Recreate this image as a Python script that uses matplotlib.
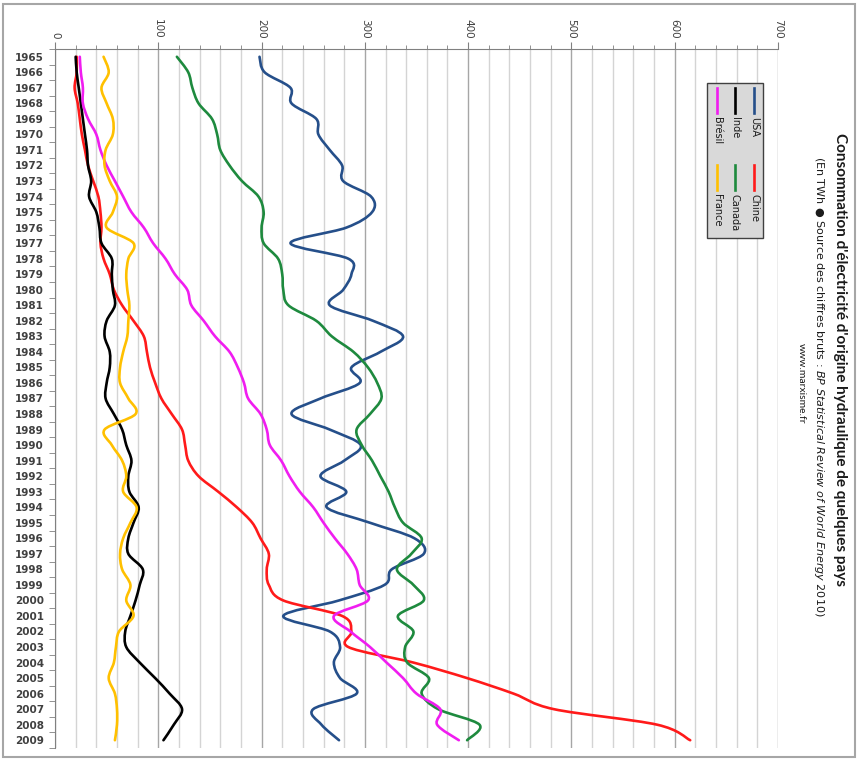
import matplotlib
matplotlib.use('Agg')
import matplotlib.pyplot as plt
from matplotlib.path import Path
from matplotlib.patches import PathPatch, Rectangle
from matplotlib.lines import Line2D
import numpy as np

# Données (TWh)
annees = list(range(1965, 2010))
usa = [198, 203, 228, 229, 253, 255, 266, 278, 279, 306,
       307, 282, 228, 284, 287, 279, 266, 308, 337, 315,
       287, 295, 257, 229, 266, 296, 280, 257, 282, 263,
       305, 348, 357, 326, 319, 275, 221, 266, 276, 270,
       276, 292, 250, 258, 275]
chine = [21, 21, 19, 22, 24, 26, 29, 32, 37, 42,
         44, 45, 44, 47, 53, 57, 65, 76, 86, 89,
         92, 97, 103, 113, 123, 126, 129, 139, 158, 176,
         191, 199, 207, 205, 207, 221, 278, 287, 284, 347,
         399, 444, 483, 583, 615]
canada = [118, 129, 133, 139, 152, 157, 160, 169, 181, 197,
          202, 200, 202, 216, 220, 221, 226, 253, 268, 289,
          303, 312, 316, 305, 292, 297, 307, 315, 323, 329,
          337, 355, 345, 331, 347, 357, 332, 347, 339, 341,
          362, 355, 371, 411, 399]
inde = [20, 21, 23, 25, 27, 29, 31, 32, 35, 33,
        40, 43, 45, 55, 55, 56, 58, 50, 48, 53,
        53, 50, 49, 57, 65, 69, 74, 71, 72, 81,
        76, 71, 71, 85, 82, 78, 73, 68, 69, 82,
        97, 111, 123, 115, 105]
bresil = [24, 25, 27, 27, 32, 40, 44, 50, 58, 66,
          74, 86, 95, 107, 116, 128, 132, 144, 155, 169,
          177, 183, 187, 199, 205, 208, 219, 227, 237, 250,
          260, 271, 283, 292, 295, 303, 270, 286, 305, 321,
          337, 350, 373, 370, 391]
france = [47, 52, 45, 50, 56, 56, 49, 48, 53, 60,
          56, 50, 76, 71, 69, 70, 72, 71, 70, 66,
          63, 63, 71, 78, 48, 55, 65, 69, 66, 79,
          73, 66, 63, 65, 73, 69, 76, 62, 59, 57,
          52, 58, 60, 60, 58]

pays = ['USA', 'Chine', 'Canada', 'Inde', 'Brésil', 'France']
series = [usa, chine, canada, inde, bresil, france]
couleurs = ['#254f8a', '#ff1a1a', '#1e8a3e', '#000000', '#f01df0', '#ffc000']

W, H = 861, 761


def fx(x):
    return x / W


def fy(y):
    return 1 - y / H


# courbe lissée façon Excel (bézier cubique)
def courbe_lissee(x, y):
    pts = np.column_stack([x, y]).astype(float)
    ext = np.vstack([pts[0], pts, pts[-1]])
    verts = [pts[0]]
    codes = [Path.MOVETO]
    for i in range(len(pts) - 1):
        p0, p1, p2, p3 = ext[i], ext[i + 1], ext[i + 2], ext[i + 3]
        verts += [p1 + (p2 - p0) / 6, p2 - (p3 - p1) / 6, p2]
        codes += [Path.CURVE4] * 3
    return Path(verts, codes)


fig = plt.figure(figsize=(W / 100, H / 100), dpi=100)
ax = fig.add_axes([fx(55), fy(748), fx(778) - fx(55), fy(49) - fy(748)])

for nom, valeurs, c in zip(pays, series, couleurs):
    ax.add_patch(PathPatch(courbe_lissee(valeurs, annees), facecolor='none',
                           edgecolor=c, lw=1.9, capstyle='round', joinstyle='round', zorder=3))

ax.set_xlim(0, 700)
ax.set_ylim(2009.5, 1964.5)

# axe des valeurs en haut
ax.xaxis.tick_top()
ax.set_xticks(range(0, 701, 100))
ax.set_xticks(range(0, 701, 20), minor=True)
ax.set_xticklabels([str(v) for v in range(0, 701, 100)], rotation=-90,
                   fontsize=7.5, color='#404040')
ax.tick_params(axis='x', which='major', length=5, color='#808080', pad=2.5)
ax.tick_params(axis='x', which='minor', length=3, color='#808080')
ax.grid(axis='x', which='major', color='#a6a6a6', lw=1)
ax.grid(axis='x', which='minor', color='#d4d4d4', lw=1)

# axe des années à gauche
ax.set_yticks(annees)
ax.set_yticklabels([str(a) for a in annees], fontsize=7.5, fontweight='bold', color='#404040')
ax.set_yticks(np.arange(1964.5, 2010, 1), minor=True)
ax.tick_params(axis='y', which='major', length=0, pad=8)
ax.tick_params(axis='y', which='minor', length=4, color='#808080')

for s in ['right', 'bottom']:
    ax.spines[s].set_visible(False)
for s in ['top', 'left']:
    ax.spines[s].set_color('#808080')

# titres
fig.text(fx(840), fy(133), "Consommation d'électricité d'origine hydraulique de quelques pays",
         rotation=-90, ha='center', va='top', fontsize=11, fontweight='bold',
         family='Lato', color='#1a1a1a')
fig.text(fx(819), fy(156),
         r"(En TWh ● Source des chiffres bruts : $\mathit{BP\ Statistical\ Review\ of\ World\ Energy\ 2010}$)",
         rotation=-90, ha='center', va='top', fontsize=8, color='#1a1a1a')
fig.text(fx(801), fy(343), "www.marxisme.fr", rotation=-90, ha='center', va='top',
         fontsize=7.5, family='Lato', color='#1a1a1a')

# légende
fig.add_artist(Rectangle((fx(707), fy(238)), fx(763) - fx(707), fy(83) - fy(238),
                         transform=fig.transFigure, facecolor='#d9d9d9',
                         edgecolor='#404040', lw=1))
leg_x = {'USA': 754, 'Chine': 754, 'Inde': 735, 'Canada': 735, 'Brésil': 717, 'France': 717}
leg_y = {'USA': 88, 'Chine': 165, 'Inde': 88, 'Canada': 165, 'Brésil': 88, 'France': 165}
for nom, c in zip(pays, couleurs):
    x, y = leg_x[nom], leg_y[nom]
    fig.add_artist(Line2D([fx(x), fx(x)], [fy(y), fy(y + 25)], transform=fig.transFigure,
                          color=c, lw=1.9))
    fig.text(fx(x), fy(y + 29), nom, rotation=-90, ha='center', va='top',
             fontsize=7, color='#1a1a1a')

# cadre
fig.add_artist(Rectangle((fx(3), fy(757)), fx(855) - fx(3), fy(4) - fy(757),
                         transform=fig.transFigure, facecolor='none',
                         edgecolor='#a6a6a6', lw=1.5))

fig.savefig('out.png', dpi=100)
